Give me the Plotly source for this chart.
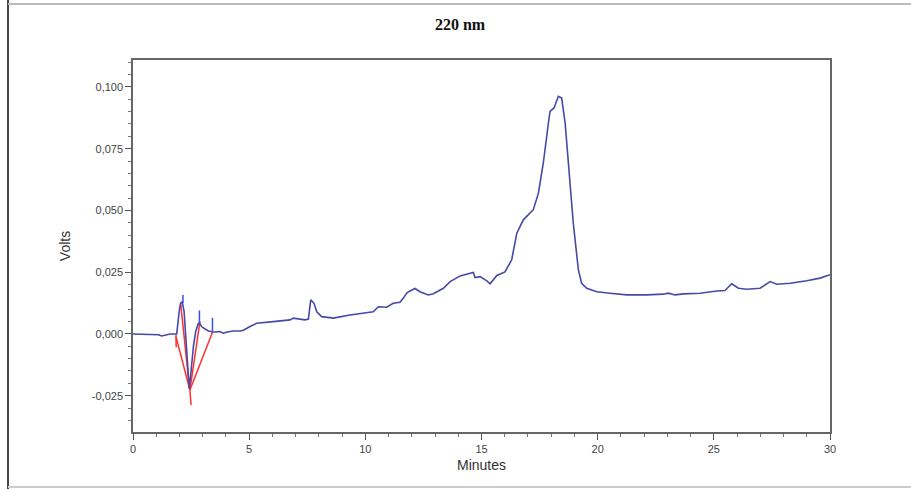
import plotly.graph_objects as go

# ---- data ----
time_min = [0.0, 0.5, 1.0, 1.1, 1.23, 1.4, 1.6, 1.88, 1.92, 2.0, 2.05, 2.12, 2.2, 2.3, 2.38, 2.42,
            2.5, 2.6, 2.7, 2.8, 2.86, 2.95, 3.1, 3.25, 3.39, 3.55, 3.74, 3.89, 4.05, 4.32, 4.61, 4.75,
            5.04, 5.32, 6.04, 6.76, 6.9, 7.4, 7.55, 7.65, 7.79, 7.91, 8.12, 8.62, 9.34, 9.91,
            10.34, 10.56, 10.92, 11.2, 11.49, 11.64, 11.78, 11.92, 12.14, 12.35, 12.64, 12.71,
            12.93, 13.22, 13.36, 13.65, 13.79, 14.08, 14.51, 14.65, 14.72, 14.94, 15.23, 15.37,
            15.66, 16.01, 16.3, 16.52, 16.8, 17.23, 17.45, 17.66, 17.88, 17.95, 18.12, 18.31,
            18.45, 18.6, 18.74, 18.95, 19.17, 19.31, 19.53, 19.96, 20.53, 21.25, 22.11, 22.83,
            23.04, 23.33, 23.69, 24.41, 25.13, 25.48, 25.77, 26.06, 26.42, 26.99, 27.42, 27.71,
            28.28, 29.0, 29.57, 30.0]
volts = [0.0, 0.0, 0.0, -0.0003, -0.0008, -0.0004, 0.0, 0.0, 0.004, 0.010, 0.0125, 0.013, 0.009,
         -0.005, -0.018, -0.0222, -0.015, -0.005, 0.001, 0.004, 0.0045, 0.003, 0.002, 0.0012, 0.0009,
         0.0008, 0.001, 0.0003, 0.0008, 0.0012, 0.0012, 0.0015, 0.003, 0.0043, 0.005, 0.0057, 0.0064,
         0.0057, 0.006, 0.0138, 0.0124, 0.009, 0.007, 0.0064, 0.0077, 0.0086, 0.009, 0.011,
         0.0108, 0.0124, 0.0128, 0.0145, 0.0165, 0.0174, 0.0184, 0.0171, 0.0158, 0.0158, 0.0163,
         0.0176, 0.0185, 0.0212, 0.0219, 0.0235, 0.0246, 0.0249, 0.0228, 0.0232, 0.0215, 0.0203,
         0.0237, 0.0251, 0.030, 0.0408, 0.0462, 0.0503, 0.057, 0.0692, 0.0854, 0.0901, 0.0915,
         0.0962, 0.0955, 0.0854, 0.0692, 0.0449, 0.0259, 0.0205, 0.0185, 0.0171, 0.0165,
         0.0158, 0.0158, 0.0161, 0.0165, 0.0158, 0.0162, 0.0165, 0.0174, 0.0176, 0.0203,
         0.0185, 0.0181, 0.0185, 0.0212, 0.0201, 0.0205, 0.0215, 0.0226, 0.024]

# peak event markers (vertical blue ticks): time, bottom, top
marker_time = [2.15, 2.86, 3.42]
marker_low = [0.0125, 0.0043, 0.0009]
marker_high = [0.0158, 0.0095, 0.0065]

# integration baselines (red): start/end points
base_x0 = [1.85, 1.85, 2.05, 2.45, 2.45, 2.45]
base_y0 = [-0.0004, -0.0011, 0.0124, -0.0227, -0.0227, -0.0227]
base_x1 = [1.86, 2.45, 2.42, 2.50, 2.88, 3.43]
base_y1 = [-0.0054, -0.0227, -0.0207, -0.0288, 0.0050, 0.0009]

y_ticks = [-0.025, 0.0, 0.025, 0.05, 0.075, 0.1]
y_tick_text = ["-0,025", "0,000", "0,025", "0,050", "0,075", "0,100"]
x_ticks = [0, 5, 10, 15, 20, 25, 30]

# ---- build figure ----
mx, my = [], []
for t, lo, hi in zip(marker_time, marker_low, marker_high):
    mx += [t, t, None]
    my += [lo, hi, None]
bx, by = [], []
for a, b, c, d in zip(base_x0, base_y0, base_x1, base_y1):
    bx += [a, c, None]
    by += [b, d, None]

fig = go.Figure()
fig.add_trace(go.Scatter(x=bx, y=by, mode="lines", line=dict(color="#ff3030", width=1.5),
                         hoverinfo="skip", showlegend=False))
fig.add_trace(go.Scatter(x=time_min, y=volts, mode="lines",
                         line=dict(color="#4848a8", width=1.6), showlegend=False))
fig.add_trace(go.Scatter(x=mx, y=my, mode="lines", line=dict(color="#3a4ee8", width=1.5),
                         hoverinfo="skip", showlegend=False))

L, R, T, B = 133, 830, 60, 432
W, H = 911, 489

def px(xp):
    return (xp - L) / (R - L)

def py(yp):
    return (B - yp) / (B - T)

fig.update_layout(
    width=W, height=H,
    margin=dict(l=L, r=W - R, t=T, b=H - B),
    paper_bgcolor="white", plot_bgcolor="white",
    font=dict(family="Liberation Sans, Arial, sans-serif", color="#333"),
    title=dict(text="<b>220 nm</b>", x=460 / W, xanchor="center", y=1 - 24 / H, yanchor="middle",
               font=dict(family="Liberation Serif, Times New Roman, serif", size=16, color="#111")),
    shapes=[
        dict(type="line", xref="paper", yref="paper", x0=px(8), x1=px(8), y0=py(0), y1=py(489),
             line=dict(color="#444", width=2)),
        dict(type="line", xref="paper", yref="paper", x0=px(8), x1=px(911), y0=py(4), y1=py(4),
             line=dict(color="#bbb", width=2)),
        dict(type="line", xref="paper", yref="paper", x0=px(8), x1=px(911), y0=py(487), y1=py(487),
             line=dict(color="#ccc", width=2)),
    ],
)
fig.update_xaxes(
    range=[0, 30], tickvals=x_ticks, ticks="outside", ticklen=6, tickcolor="#555",
    minor=dict(dtick=1, ticks="outside", ticklen=3, tickcolor="#777"),
    showline=True, linecolor="#666", linewidth=1.5, mirror=True, showgrid=False, zeroline=False,
    tickfont=dict(size=11, color="#444"),
    title=dict(text="Minutes", font=dict(size=14, color="#333"), standoff=6),
)
fig.update_yaxes(
    range=[-0.0397, 0.1109], tickvals=y_ticks, ticktext=y_tick_text, ticks="outside", ticklen=6,
    tickcolor="#555", minor=dict(dtick=0.005, tick0=0, ticks="outside", ticklen=3, tickcolor="#777"),
    showline=True, linecolor="#666", linewidth=1.5, mirror=True, showgrid=False, zeroline=False,
    tickfont=dict(size=11, color="#444"),
    title=dict(text="Volts", font=dict(size=14, color="#333"), standoff=18),
)

fig.write_html("out.html")
